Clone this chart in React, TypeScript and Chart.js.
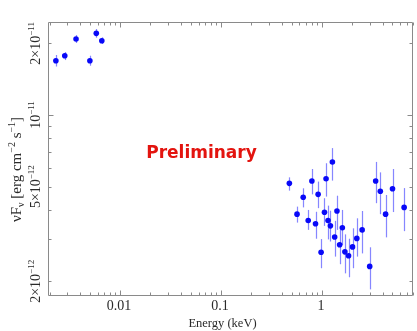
import React, { useEffect, useRef } from "react";
import { Chart, registerables } from "chart.js";

Chart.register(...registerables);

// Energy (keV)
const energyKeV = [
  0.00231, 0.00283, 0.00366, 0.00502, 0.00581, 0.00659,
  0.476, 0.567, 0.653, 0.732, 0.796, 0.865, 0.918, 0.982, 1.061, 1.1,
  1.151, 1.215, 1.271, 1.339, 1.411, 1.5, 1.595, 1.691, 1.839, 2.013,
  2.219, 2.507, 2.978, 3.412, 3.795, 4.28, 5.013, 6.534,
];
// nuFnu (erg cm^-2 s^-1)
const fluxNuFnu = [
  1.691e-11, 1.775e-11, 2.086e-11, 1.691e-11, 2.204e-11, 2.052e-11,
  5.16e-12, 3.83e-12, 4.51e-12, 3.6e-12, 5.28e-12, 3.49e-12, 4.64e-12, 2.65e-12, 3.9e-12, 5.4e-12,
  3.6e-12, 3.42e-12, 6.35e-12, 3.07e-12, 3.95e-12, 2.85e-12, 3.36e-12, 2.66e-12, 2.56e-12, 2.79e-12,
  3.03e-12, 3.29e-12, 2.31e-12, 5.28e-12, 4.78e-12, 3.83e-12, 4.9e-12, 4.09e-12,
];
const fluxLow = [
  1.599e-11, 1.702e-11, 2.007e-11, 1.611e-11, 2.113e-11, 1.988e-11,
  4.81e-12, 3.53e-12, 4.09e-12, 3.29e-12, 4.64e-12, 3.02e-12, 4.06e-12, 2.27e-12, 3.42e-12, 4.54e-12,
  3.0e-12, 2.94e-12, 5.3e-12, 2.54e-12, 3.29e-12, 2.36e-12, 2.84e-12, 2.16e-12, 2.08e-12, 2.27e-12,
  2.54e-12, 2.62e-12, 1.85e-12, 4.26e-12, 3.83e-12, 3.06e-12, 3.91e-12, 3.25e-12,
];
const fluxHigh = [
  1.787e-11, 1.839e-11, 2.168e-11, 1.775e-11, 2.298e-11, 2.121e-11,
  5.47e-12, 4.12e-12, 4.92e-12, 3.99e-12, 5.93e-12, 3.92e-12, 5.25e-12, 3.01e-12, 4.47e-12, 6.27e-12,
  4.16e-12, 3.96e-12, 7.26e-12, 3.59e-12, 4.58e-12, 3.29e-12, 3.99e-12, 3.15e-12, 3.02e-12, 3.34e-12,
  3.68e-12, 3.95e-12, 2.78e-12, 6.35e-12, 5.74e-12, 4.61e-12, 5.93e-12, 4.93e-12,
];

const xTickValues = [0.01, 0.1, 1];
const xTickLabels = ["0.01", "0.1", "1"];
const yTickValues = [2e-11, 1e-11, 5e-12, 2e-12];
const yTickMantissa = ["2×10", "10", "5×10", "2×10"];
const yTickExponent = ["−11", "−11", "−12", "−12"];

const X_MIN = 0.00193;
const X_MAX = 8;
const Y_MIN = 1.735e-12;
const Y_MAX = 2.436e-11;

const SERIF = '"Liberation Serif", "Times New Roman", serif';
const FRAME = "#8a8a8a";
const TEXT = "#2a2a2a";

type Part = { t: string; k: "n" | "sup" | "sub" };

function drawRich(ctx: CanvasRenderingContext2D, parts: Part[], size: number, cx: number, cy: number, rotate: boolean) {
  const small = Math.round(size * 0.64);
  const fontFor = (k: string) => `${k === "n" ? size : small}px ${SERIF}`;
  let total = 0;
  const widths = parts.map((p) => {
    ctx.font = fontFor(p.k);
    const w = ctx.measureText(p.t).width;
    total += w;
    return w;
  });
  ctx.save();
  ctx.translate(cx, cy);
  if (rotate) ctx.rotate(-Math.PI / 2);
  ctx.textBaseline = "alphabetic";
  ctx.textAlign = "left";
  let x = -total / 2;
  parts.forEach((p, i) => {
    ctx.font = fontFor(p.k);
    const dy = p.k === "sup" ? -size * 0.4 : p.k === "sub" ? size * 0.22 : 0;
    ctx.fillText(p.t, x, dy);
    x += widths[i];
  });
  ctx.restore();
}

const framePlugin = {
  id: "framePlugin",
  beforeDatasetsDraw(chart: any) {
    const ctx: CanvasRenderingContext2D = chart.ctx;
    const xs = chart.scales.x;
    const ys = chart.scales.y;
    ctx.save();
    ctx.strokeStyle = "rgba(60,60,255,0.62)";
    ctx.lineWidth = 1.2;
    energyKeV.forEach((e, i) => {
      const px = Math.round(xs.getPixelForValue(e)) + 0.5;
      const y1 = ys.getPixelForValue(fluxLow[i]);
      const y2 = ys.getPixelForValue(fluxHigh[i]);
      ctx.beginPath();
      ctx.moveTo(px, y1);
      ctx.lineTo(px, y2);
      ctx.stroke();
    });
    ctx.restore();
  },
  afterDraw(chart: any) {
    const ctx: CanvasRenderingContext2D = chart.ctx;
    const { left, right, top, bottom } = chart.chartArea;
    const xs = chart.scales.x;
    const ys = chart.scales.y;
    const L = Math.round(left) + 0.5;
    const R = Math.round(right) - 0.5;
    const T = Math.round(top) - 0.5;
    const B = Math.round(bottom) - 0.5;
    ctx.save();
    ctx.strokeStyle = FRAME;
    ctx.lineWidth = 1;
    ctx.beginPath();
    ctx.rect(L, T, R - L, B - T);
    ctx.stroke();
    for (let d = 0.001; d <= 10; d *= 10) {
      for (let k = 1; k <= 9; k++) {
        const v = d * k;
        if (v < X_MIN || v > X_MAX * 1.0001) continue;
        const px = Math.round(xs.getPixelForValue(v)) + 0.5;
        const len = k === 1 ? 5 : 3;
        ctx.beginPath();
        ctx.moveTo(px, B);
        ctx.lineTo(px, B - len);
        ctx.moveTo(px, T);
        ctx.lineTo(px, T + len);
        ctx.stroke();
      }
    }
    for (let d = 1e-13; d <= 1e-10; d *= 10) {
      for (let k = 1; k <= 9; k++) {
        const v = d * k;
        if (v < Y_MIN || v > Y_MAX) continue;
        const py = Math.round(ys.getPixelForValue(v)) + 0.5;
        const len = k === 1 ? 5 : 3;
        ctx.beginPath();
        ctx.moveTo(L, py);
        ctx.lineTo(L + len, py);
        ctx.moveTo(R, py);
        ctx.lineTo(R - len, py);
        ctx.stroke();
      }
    }
    ctx.restore();

    ctx.save();
    ctx.fillStyle = TEXT;
    ctx.font = `14px ${SERIF}`;
    ctx.textAlign = "center";
    ctx.textBaseline = "alphabetic";
    xTickValues.forEach((v, i) => {
      ctx.fillText(xTickLabels[i], xs.getPixelForValue(v) - 1, 309.5);
    });
    yTickValues.forEach((v, i) => {
      const py = ys.getPixelForValue(v);
      drawRich(
        ctx,
        [
          { t: yTickMantissa[i], k: "n" },
          { t: yTickExponent[i], k: "sup" },
        ],
        14,
        39.5,
        py,
        true
      );
    });
    ctx.font = `12.5px ${SERIF}`;
    ctx.textAlign = "center";
    ctx.fillText("Energy (keV)", 222.5, 326.5);
    drawRich(
      ctx,
      [
        { t: "νF", k: "n" },
        { t: "ν", k: "sub" },
        { t: " [erg cm", k: "n" },
        { t: "−2", k: "sup" },
        { t: " s", k: "n" },
        { t: "−1", k: "sup" },
        { t: "]", k: "n" },
      ],
      15,
      20.5,
      169.5,
      true
    );
    ctx.fillStyle = "#e3140f";
    ctx.font = 'bold 17px "DejaVu Sans", sans-serif';
    ctx.textAlign = "center";
    ctx.textBaseline = "alphabetic";
    ctx.fillText("Preliminary", 201.5, 157.5);
    ctx.restore();
  },
};

export default function App() {
  const ref = useRef<HTMLCanvasElement | null>(null);
  useEffect(() => {
    document.body.style.margin = "0";
    if (!ref.current) return;
    const chart = new Chart(ref.current, {
      type: "scatter",
      data: {
        datasets: [
          {
            data: energyKeV.map((e, i) => ({ x: e, y: fluxNuFnu[i] })),
            backgroundColor: "#0808f8",
            borderWidth: 0,
            pointRadius: 2.8,
          },
        ],
      },
      options: {
        animation: false,
        responsive: false,
        maintainAspectRatio: false,
        layout: { padding: { left: 48, right: 1, top: 23, bottom: 35 } },
        plugins: { legend: { display: false }, tooltip: { enabled: false } },
        scales: {
          x: { type: "logarithmic", min: X_MIN, max: X_MAX, display: false },
          y: { type: "logarithmic", min: Y_MIN, max: Y_MAX, display: false },
        },
      },
      plugins: [framePlugin],
    });
    return () => chart.destroy();
  }, []);
  return (
    <div style={{ position: "fixed", left: 0, top: 0, width: 417, height: 331, background: "#fff" }}>
      <canvas ref={ref} width={417} height={331} />
    </div>
  );
}
